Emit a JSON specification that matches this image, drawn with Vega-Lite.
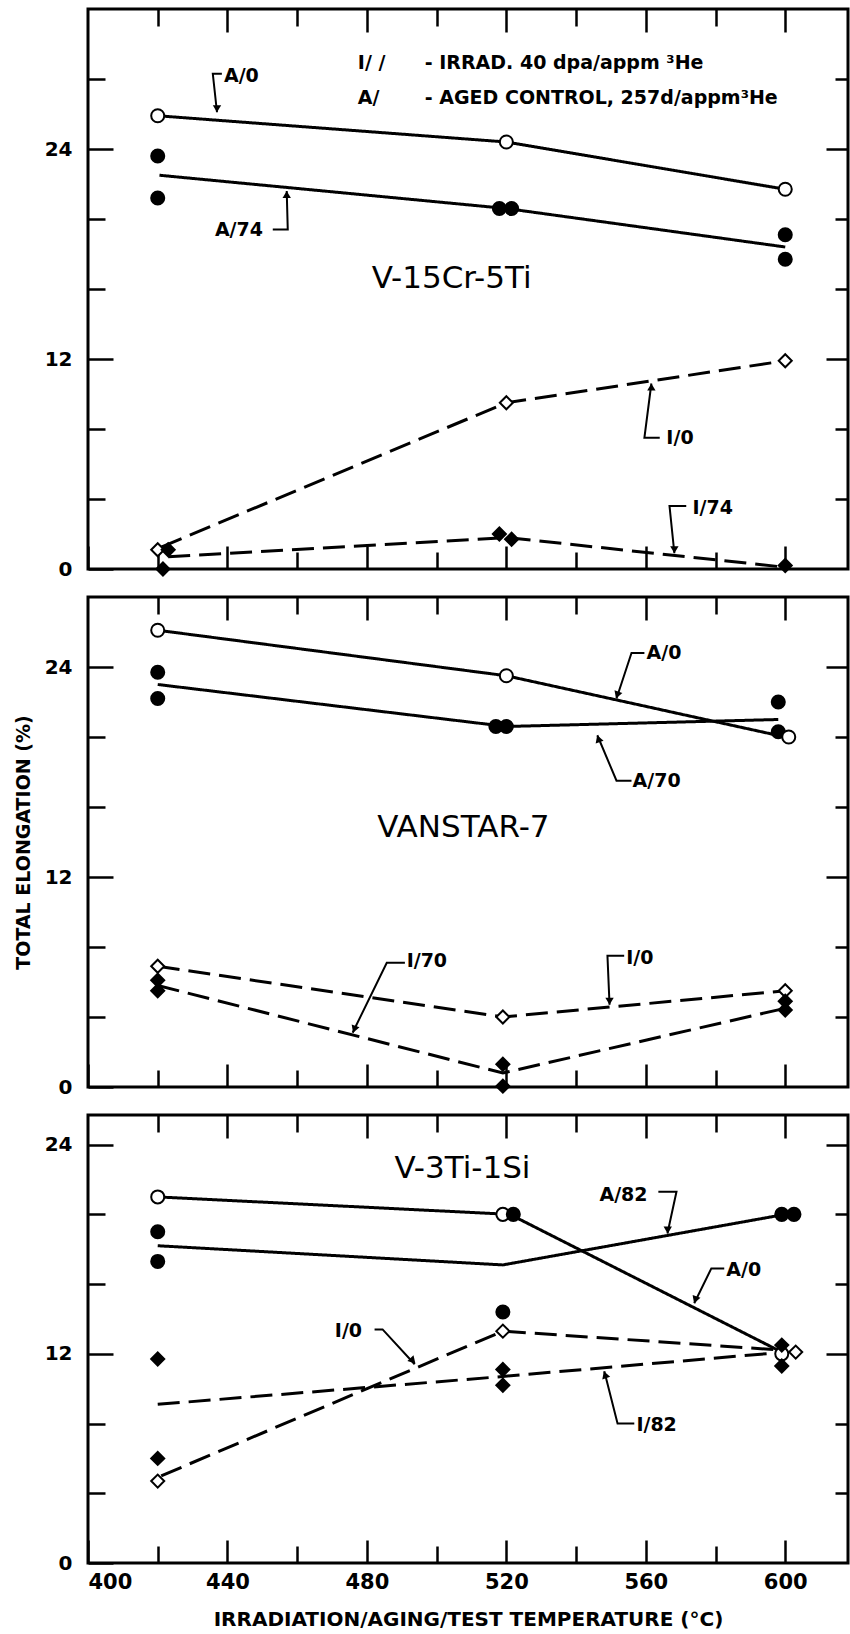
{
  "$schema": "https://vega.github.io/schema/vega-lite/v6.json",
  "padding": {"left": 12, "top": 6, "right": 0, "bottom": 0},
  "spacing": 28,
  "bounds": "flush",
  "config": {
    "view": {"stroke": "black", "strokeWidth": 3},
    "font": "DejaVu Sans",
    "axis": {"domain": false, "grid": false, "minExtent": 0, "tickColor": "black", "tickWidth": 2.5, "labelColor": "black", "titleColor": "black", "labelFont": "DejaVu Sans", "titleFont": "DejaVu Sans", "labelFontSize": 20, "labelFontWeight": "bold", "titleFontWeight": "bold"}
  },
  "datasets": {
    "pts": [
      {"panel": "P1", "x": 420, "y": 25.9, "treat": "A", "he": "none"},
      {"panel": "P1", "x": 520, "y": 24.4, "treat": "A", "he": "none"},
      {"panel": "P1", "x": 600, "y": 21.7, "treat": "A", "he": "none"},
      {"panel": "P1", "x": 420, "y": 23.6, "treat": "A", "he": "He"},
      {"panel": "P1", "x": 420, "y": 21.2, "treat": "A", "he": "He"},
      {"panel": "P1", "x": 518, "y": 20.6, "treat": "A", "he": "He"},
      {"panel": "P1", "x": 521.5, "y": 20.6, "treat": "A", "he": "He"},
      {"panel": "P1", "x": 600, "y": 19.1, "treat": "A", "he": "He"},
      {"panel": "P1", "x": 600, "y": 17.7, "treat": "A", "he": "He"},
      {"panel": "P1", "x": 420, "y": 1.1, "treat": "I", "he": "none"},
      {"panel": "P1", "x": 520, "y": 9.5, "treat": "I", "he": "none"},
      {"panel": "P1", "x": 600, "y": 11.9, "treat": "I", "he": "none"},
      {"panel": "P1", "x": 423, "y": 1.1, "treat": "I", "he": "He"},
      {"panel": "P1", "x": 421.5, "y": 0, "treat": "I", "he": "He"},
      {"panel": "P1", "x": 518, "y": 2.0, "treat": "I", "he": "He"},
      {"panel": "P1", "x": 521.5, "y": 1.7, "treat": "I", "he": "He"},
      {"panel": "P1", "x": 600, "y": 0.2, "treat": "I", "he": "He"},
      {"panel": "P2", "x": 420, "y": 23.7, "treat": "A", "he": "He"},
      {"panel": "P2", "x": 420, "y": 22.2, "treat": "A", "he": "He"},
      {"panel": "P2", "x": 517, "y": 20.6, "treat": "A", "he": "He"},
      {"panel": "P2", "x": 520, "y": 20.6, "treat": "A", "he": "He"},
      {"panel": "P2", "x": 598, "y": 22.0, "treat": "A", "he": "He"},
      {"panel": "P2", "x": 598, "y": 20.3, "treat": "A", "he": "He"},
      {"panel": "P2", "x": 420, "y": 26.1, "treat": "A", "he": "none"},
      {"panel": "P2", "x": 520, "y": 23.5, "treat": "A", "he": "none"},
      {"panel": "P2", "x": 601, "y": 20.0, "treat": "A", "he": "none"},
      {"panel": "P2", "x": 420, "y": 6.9, "treat": "I", "he": "none"},
      {"panel": "P2", "x": 519, "y": 4.0, "treat": "I", "he": "none"},
      {"panel": "P2", "x": 600, "y": 5.5, "treat": "I", "he": "none"},
      {"panel": "P2", "x": 420, "y": 6.1, "treat": "I", "he": "He"},
      {"panel": "P2", "x": 420, "y": 5.5, "treat": "I", "he": "He"},
      {"panel": "P2", "x": 519, "y": 1.3, "treat": "I", "he": "He"},
      {"panel": "P2", "x": 519, "y": 0.05, "treat": "I", "he": "He"},
      {"panel": "P2", "x": 600, "y": 4.9, "treat": "I", "he": "He"},
      {"panel": "P2", "x": 600, "y": 4.4, "treat": "I", "he": "He"},
      {"panel": "P3", "x": 420, "y": 21.0, "treat": "A", "he": "none"},
      {"panel": "P3", "x": 519, "y": 20.0, "treat": "A", "he": "none"},
      {"panel": "P3", "x": 599, "y": 12.0, "treat": "A", "he": "none"},
      {"panel": "P3", "x": 420, "y": 19.0, "treat": "A", "he": "He"},
      {"panel": "P3", "x": 420, "y": 17.3, "treat": "A", "he": "He"},
      {"panel": "P3", "x": 522, "y": 20.0, "treat": "A", "he": "He"},
      {"panel": "P3", "x": 519, "y": 14.4, "treat": "A", "he": "He"},
      {"panel": "P3", "x": 599, "y": 20.0, "treat": "A", "he": "He"},
      {"panel": "P3", "x": 602.5, "y": 20.0, "treat": "A", "he": "He"},
      {"panel": "P3", "x": 420, "y": 4.7, "treat": "I", "he": "none"},
      {"panel": "P3", "x": 519, "y": 13.3, "treat": "I", "he": "none"},
      {"panel": "P3", "x": 420, "y": 11.7, "treat": "I", "he": "He"},
      {"panel": "P3", "x": 420, "y": 6.0, "treat": "I", "he": "He"},
      {"panel": "P3", "x": 519, "y": 11.1, "treat": "I", "he": "He"},
      {"panel": "P3", "x": 519, "y": 10.2, "treat": "I", "he": "He"},
      {"panel": "P3", "x": 599, "y": 12.5, "treat": "I", "he": "He"},
      {"panel": "P3", "x": 599, "y": 11.3, "treat": "I", "he": "He"},
      {"panel": "P3", "x": 603, "y": 12.1, "treat": "I", "he": "none"}
    ],
    "lines": [
      {"panel": "P1", "series": "A/0", "treat": "A", "x": 420, "y": 25.9},
      {"panel": "P1", "series": "A/0", "treat": "A", "x": 520, "y": 24.4},
      {"panel": "P1", "series": "A/0", "treat": "A", "x": 600, "y": 21.7},
      {"panel": "P1", "series": "A/74", "treat": "A", "x": 420.5, "y": 22.5},
      {"panel": "P1", "series": "A/74", "treat": "A", "x": 520, "y": 20.6},
      {"panel": "P1", "series": "A/74", "treat": "A", "x": 600, "y": 18.4},
      {"panel": "P1", "series": "I/0", "treat": "I", "x": 421, "y": 1.25},
      {"panel": "P1", "series": "I/0", "treat": "I", "x": 520, "y": 9.5},
      {"panel": "P1", "series": "I/0", "treat": "I", "x": 600, "y": 11.9},
      {"panel": "P1", "series": "I/74", "treat": "I", "x": 423, "y": 0.7},
      {"panel": "P1", "series": "I/74", "treat": "I", "x": 520, "y": 1.8},
      {"panel": "P1", "series": "I/74", "treat": "I", "x": 600, "y": 0.1},
      {"panel": "P2", "series": "A/0", "treat": "A", "x": 420, "y": 26.1},
      {"panel": "P2", "series": "A/0", "treat": "A", "x": 520, "y": 23.5},
      {"panel": "P2", "series": "A/0", "treat": "A", "x": 600, "y": 20.0},
      {"panel": "P2", "series": "A/70", "treat": "A", "x": 420, "y": 23.0},
      {"panel": "P2", "series": "A/70", "treat": "A", "x": 520, "y": 20.6},
      {"panel": "P2", "series": "A/70", "treat": "A", "x": 598, "y": 21.0},
      {"panel": "P2", "series": "I/0", "treat": "I", "x": 420, "y": 6.9},
      {"panel": "P2", "series": "I/0", "treat": "I", "x": 519, "y": 4.0},
      {"panel": "P2", "series": "I/0", "treat": "I", "x": 600, "y": 5.5},
      {"panel": "P2", "series": "I/70", "treat": "I", "x": 420, "y": 5.8},
      {"panel": "P2", "series": "I/70", "treat": "I", "x": 519, "y": 0.8},
      {"panel": "P2", "series": "I/70", "treat": "I", "x": 600, "y": 4.5},
      {"panel": "P3", "series": "A/0", "treat": "A", "x": 420, "y": 21.0},
      {"panel": "P3", "series": "A/0", "treat": "A", "x": 521, "y": 20.0},
      {"panel": "P3", "series": "A/0", "treat": "A", "x": 598, "y": 12.2},
      {"panel": "P3", "series": "A/82", "treat": "A", "x": 420, "y": 18.2},
      {"panel": "P3", "series": "A/82", "treat": "A", "x": 519, "y": 17.1},
      {"panel": "P3", "series": "A/82", "treat": "A", "x": 600, "y": 20.0},
      {"panel": "P3", "series": "I/0", "treat": "I", "x": 421, "y": 5.0},
      {"panel": "P3", "series": "I/0", "treat": "I", "x": 519, "y": 13.3},
      {"panel": "P3", "series": "I/0", "treat": "I", "x": 600, "y": 12.2},
      {"panel": "P3", "series": "I/82", "treat": "I", "x": 420, "y": 9.1},
      {"panel": "P3", "series": "I/82", "treat": "I", "x": 519, "y": 10.7},
      {"panel": "P3", "series": "I/82", "treat": "I", "x": 600, "y": 12.1}
    ],
    "leaders": [
      {"panel": "P1", "id": "a", "ord": 1, "x": 438.4, "y": 28.3},
      {"panel": "P1", "id": "a", "ord": 2, "x": 435.8, "y": 28.3},
      {"panel": "P1", "id": "a", "ord": 3, "x": 437.0, "y": 26.1},
      {"panel": "P1", "id": "b", "ord": 1, "x": 453.0, "y": 19.4},
      {"panel": "P1", "id": "b", "ord": 2, "x": 457.3, "y": 19.4},
      {"panel": "P1", "id": "b", "ord": 3, "x": 457.0, "y": 21.6},
      {"panel": "P1", "id": "c", "ord": 1, "x": 564.0, "y": 7.5},
      {"panel": "P1", "id": "c", "ord": 2, "x": 559.6, "y": 7.5},
      {"panel": "P1", "id": "c", "ord": 3, "x": 561.6, "y": 10.6},
      {"panel": "P1", "id": "d", "ord": 1, "x": 571.6, "y": 3.6},
      {"panel": "P1", "id": "d", "ord": 2, "x": 566.8, "y": 3.6},
      {"panel": "P1", "id": "d", "ord": 3, "x": 568.2, "y": 0.9},
      {"panel": "P2", "id": "a", "ord": 1, "x": 559.6, "y": 24.8},
      {"panel": "P2", "id": "a", "ord": 2, "x": 555.9, "y": 24.8},
      {"panel": "P2", "id": "a", "ord": 3, "x": 551.6, "y": 22.2},
      {"panel": "P2", "id": "b", "ord": 1, "x": 555.9, "y": 17.5},
      {"panel": "P2", "id": "b", "ord": 2, "x": 551.6, "y": 17.5},
      {"panel": "P2", "id": "b", "ord": 3, "x": 546.1, "y": 20.1},
      {"panel": "P2", "id": "c", "ord": 1, "x": 490.9, "y": 7.1},
      {"panel": "P2", "id": "c", "ord": 2, "x": 485.7, "y": 7.1},
      {"panel": "P2", "id": "c", "ord": 3, "x": 475.9, "y": 3.1},
      {"panel": "P2", "id": "d", "ord": 1, "x": 553.8, "y": 7.5},
      {"panel": "P2", "id": "d", "ord": 2, "x": 549.0, "y": 7.5},
      {"panel": "P2", "id": "d", "ord": 3, "x": 549.6, "y": 4.7},
      {"panel": "P3", "id": "a", "ord": 1, "x": 563.6, "y": 21.3},
      {"panel": "P3", "id": "a", "ord": 2, "x": 568.8, "y": 21.3},
      {"panel": "P3", "id": "a", "ord": 3, "x": 566.2, "y": 18.9},
      {"panel": "P3", "id": "b", "ord": 1, "x": 582.5, "y": 16.9},
      {"panel": "P3", "id": "b", "ord": 2, "x": 578.8, "y": 16.9},
      {"panel": "P3", "id": "b", "ord": 3, "x": 573.9, "y": 14.9},
      {"panel": "P3", "id": "c", "ord": 1, "x": 482.2, "y": 13.4},
      {"panel": "P3", "id": "c", "ord": 2, "x": 484.5, "y": 13.4},
      {"panel": "P3", "id": "c", "ord": 3, "x": 493.7, "y": 11.4},
      {"panel": "P3", "id": "d", "ord": 1, "x": 556.7, "y": 8.0},
      {"panel": "P3", "id": "d", "ord": 2, "x": 551.9, "y": 8.0},
      {"panel": "P3", "id": "d", "ord": 3, "x": 548.1, "y": 11.0}
    ],
    "heads": [
      {"panel": "P1", "x": 437.0, "y": 26.3, "dir": "S"},
      {"panel": "P1", "x": 457.0, "y": 21.4, "dir": "N"},
      {"panel": "P1", "x": 561.6, "y": 10.4, "dir": "N"},
      {"panel": "P1", "x": 568.2, "y": 1.1, "dir": "S"},
      {"panel": "P2", "x": 551.8, "y": 22.4, "dir": "SSW"},
      {"panel": "P2", "x": 546.4, "y": 19.9, "dir": "NNW"},
      {"panel": "P2", "x": 476.4, "y": 3.3, "dir": "SSW"},
      {"panel": "P2", "x": 549.6, "y": 4.9, "dir": "S"},
      {"panel": "P3", "x": 566.3, "y": 19.1, "dir": "S"},
      {"panel": "P3", "x": 574.2, "y": 15.1, "dir": "SSW"},
      {"panel": "P3", "x": 493.2, "y": 11.6, "dir": "SE"},
      {"panel": "P3", "x": 548.3, "y": 10.8, "dir": "NNW"}
    ],
    "notes": [
      {"panel": "P1", "x": 439.0, "y": 28.2, "label": "A/0"},
      {"panel": "P1", "x": 436.4, "y": 19.4, "label": "A/74"},
      {"panel": "P1", "x": 565.9, "y": 7.5, "label": "I/0"},
      {"panel": "P1", "x": 573.4, "y": 3.5, "label": "I/74"},
      {"panel": "P1", "x": 477.4, "y": 28.9, "label": "I/  /"},
      {"panel": "P1", "x": 496.6, "y": 28.9, "label": "- IRRAD. 40 dpa/appm ³He"},
      {"panel": "P1", "x": 477.4, "y": 26.9, "label": "A/"},
      {"panel": "P1", "x": 496.6, "y": 26.9, "label": "- AGED CONTROL, 257d/appm³He"},
      {"panel": "P2", "x": 560.2, "y": 24.8, "label": "A/0"},
      {"panel": "P2", "x": 556.2, "y": 17.5, "label": "A/70"},
      {"panel": "P2", "x": 491.4, "y": 7.2, "label": "I/70"},
      {"panel": "P2", "x": 554.4, "y": 7.4, "label": "I/0"},
      {"panel": "P3", "x": 546.7, "y": 21.1, "label": "A/82"},
      {"panel": "P3", "x": 583.1, "y": 16.8, "label": "A/0"},
      {"panel": "P3", "x": 470.8, "y": 13.3, "label": "I/0"},
      {"panel": "P3", "x": 557.3, "y": 7.9, "label": "I/82"}
    ],
    "titles": [
      {"panel": "P1", "x": 504.3, "y": 16.6, "label": "V-15Cr-5Ti"},
      {"panel": "P2", "x": 507.7, "y": 14.8, "label": "VANSTAR-7"},
      {"panel": "P3", "x": 507.4, "y": 22.6, "label": "V-3Ti-1Si"}
    ]
  },
  "vconcat": [
    {
      "width": 760, "height": 560,
      "layer": [
        {
          "data": {"name": "lines"}, "transform": [{"filter": "datum.panel === 'P1'"}],
          "mark": {"type": "line", "color": "black", "strokeWidth": 3},
          "encoding": {
            "x": {"field": "x", "type": "quantitative", "scale": {"domain": [400, 618], "nice": false, "zero": false},
              "axis": {"orient": "bottom", "values": [400, 420, 440, 460, 480, 500, 520, 540, 560, 580, 600], "labels": false, "tickSize": {"expr": "datum.value % 40 === 0 ? -23 : -17"}, "title": null}},
            "y": {"field": "y", "type": "quantitative", "scale": {"domain": [0, 32], "nice": false},
              "axis": {"orient": "left", "values": [0, 4, 8, 12, 16, 20, 24, 28], "labelExpr": "datum.value % 12 === 0 ? datum.label : ''", "tickSize": {"expr": "datum.value % 12 === 0 ? -25 : -17"}, "labelPadding": 41, "title": null}},
            "detail": {"field": "series"},
            "strokeDash": {"field": "treat", "type": "nominal", "scale": {"domain": ["A", "I"], "range": [[1, 0], [22, 9]]}, "legend": null}
          }
        },
        {
          "data": {"name": "pts"}, "transform": [{"filter": "datum.panel === 'P1'"}],
          "mark": {"type": "point", "filled": true, "size": 170, "stroke": "black", "strokeWidth": 2, "opacity": 1},
          "encoding": {
            "x": {"field": "x", "type": "quantitative", "scale": {"domain": [400, 618], "nice": false, "zero": false},
              "axis": {"orient": "top", "values": [420, 440, 460, 480, 500, 520, 540, 560, 580, 600], "labels": false, "tickSize": {"expr": "datum.value % 40 === 0 ? -23 : -17"}, "title": null}},
            "y": {"field": "y", "type": "quantitative", "scale": {"domain": [0, 32], "nice": false},
              "axis": {"orient": "right", "values": [4, 8, 12, 16, 20, 24, 28], "labels": false, "tickSize": {"expr": "datum.value % 12 === 0 ? -22 : -13"}, "title": null}},
            "shape": {"field": "treat", "type": "nominal", "scale": {"domain": ["A", "I"], "range": ["circle", "diamond"]}, "legend": null},
            "fill": {"field": "he", "type": "nominal", "scale": {"domain": ["none", "He"], "range": ["white", "black"]}, "legend": null}
          }
        },
        {
          "data": {"name": "leaders"}, "transform": [{"filter": "datum.panel === 'P1'"}],
          "mark": {"type": "line", "color": "black", "strokeWidth": 2},
          "encoding": {
            "x": {"field": "x", "type": "quantitative", "axis": null},
            "y": {"field": "y", "type": "quantitative", "axis": null},
            "detail": {"field": "id"},
            "order": {"field": "ord", "type": "quantitative"}
          }
        },
        {
          "data": {"name": "heads"}, "transform": [{"filter": "datum.panel === 'P1'"}],
          "mark": {"type": "point", "shape": "triangle-up", "filled": true, "color": "black", "size": 70, "opacity": 1},
          "encoding": {
            "x": {"field": "x", "type": "quantitative", "axis": null},
            "y": {"field": "y", "type": "quantitative", "axis": null},
            "angle": {"field": "dir", "type": "nominal", "scale": {"type": "ordinal", "domain": ["N", "S", "SSW", "NNW", "SE"], "range": [0, 180, 200, 340, 137]}, "legend": null}
          }
        },
        {
          "data": {"name": "notes"}, "transform": [{"filter": "datum.panel === 'P1'"}],
          "mark": {"type": "text", "align": "left", "baseline": "middle", "fontSize": 19, "fontWeight": "bold", "color": "black", "font": "DejaVu Sans"},
          "encoding": {
            "x": {"field": "x", "type": "quantitative", "axis": null},
            "y": {"field": "y", "type": "quantitative", "axis": null},
            "text": {"field": "label"}
          }
        },
        {
          "data": {"name": "titles"}, "transform": [{"filter": "datum.panel === 'P1'"}],
          "mark": {"type": "text", "align": "center", "baseline": "middle", "fontSize": 31, "color": "black", "font": "DejaVu Sans"},
          "encoding": {
            "x": {"field": "x", "type": "quantitative", "axis": null},
            "y": {"field": "y", "type": "quantitative", "axis": null},
            "text": {"field": "label"}
          }
        }
      ],
      "resolve": {"axis": {"x": "independent", "y": "independent"}}
    },
    {
      "width": 760, "height": 490,
      "layer": [
        {
          "data": {"name": "lines"}, "transform": [{"filter": "datum.panel === 'P2'"}],
          "mark": {"type": "line", "color": "black", "strokeWidth": 3},
          "encoding": {
            "x": {"field": "x", "type": "quantitative", "scale": {"domain": [400, 618], "nice": false, "zero": false},
              "axis": {"orient": "bottom", "values": [400, 420, 440, 460, 480, 500, 520, 540, 560, 580, 600], "labels": false, "tickSize": {"expr": "datum.value % 40 === 0 ? -23 : -17"}, "title": null}},
            "y": {"field": "y", "type": "quantitative", "scale": {"domain": [0, 28], "nice": false},
              "axis": {"orient": "left", "values": [0, 4, 8, 12, 16, 20, 24], "labelExpr": "datum.value % 12 === 0 ? datum.label : ''", "tickSize": {"expr": "datum.value % 12 === 0 ? -25 : -17"}, "labelPadding": 41, "title": "TOTAL ELONGATION (%)", "titleFontSize": 19, "titlePadding": 11}},
            "detail": {"field": "series"},
            "strokeDash": {"field": "treat", "type": "nominal", "scale": {"domain": ["A", "I"], "range": [[1, 0], [22, 9]]}, "legend": null}
          }
        },
        {
          "data": {"name": "pts"}, "transform": [{"filter": "datum.panel === 'P2'"}],
          "mark": {"type": "point", "filled": true, "size": 170, "stroke": "black", "strokeWidth": 2, "opacity": 1},
          "encoding": {
            "x": {"field": "x", "type": "quantitative", "scale": {"domain": [400, 618], "nice": false, "zero": false},
              "axis": {"orient": "top", "values": [420, 440, 460, 480, 500, 520, 540, 560, 580, 600], "labels": false, "tickSize": {"expr": "datum.value % 40 === 0 ? -23 : -17"}, "title": null}},
            "y": {"field": "y", "type": "quantitative", "scale": {"domain": [0, 28], "nice": false},
              "axis": {"orient": "right", "values": [4, 8, 12, 16, 20, 24], "labels": false, "tickSize": {"expr": "datum.value % 12 === 0 ? -22 : -13"}, "title": null}},
            "shape": {"field": "treat", "type": "nominal", "scale": {"domain": ["A", "I"], "range": ["circle", "diamond"]}, "legend": null},
            "fill": {"field": "he", "type": "nominal", "scale": {"domain": ["none", "He"], "range": ["white", "black"]}, "legend": null}
          }
        },
        {
          "data": {"name": "leaders"}, "transform": [{"filter": "datum.panel === 'P2'"}],
          "mark": {"type": "line", "color": "black", "strokeWidth": 2},
          "encoding": {
            "x": {"field": "x", "type": "quantitative", "axis": null},
            "y": {"field": "y", "type": "quantitative", "axis": null},
            "detail": {"field": "id"},
            "order": {"field": "ord", "type": "quantitative"}
          }
        },
        {
          "data": {"name": "heads"}, "transform": [{"filter": "datum.panel === 'P2'"}],
          "mark": {"type": "point", "shape": "triangle-up", "filled": true, "color": "black", "size": 70, "opacity": 1},
          "encoding": {
            "x": {"field": "x", "type": "quantitative", "axis": null},
            "y": {"field": "y", "type": "quantitative", "axis": null},
            "angle": {"field": "dir", "type": "nominal", "scale": {"type": "ordinal", "domain": ["N", "S", "SSW", "NNW", "SE"], "range": [0, 180, 200, 340, 137]}, "legend": null}
          }
        },
        {
          "data": {"name": "notes"}, "transform": [{"filter": "datum.panel === 'P2'"}],
          "mark": {"type": "text", "align": "left", "baseline": "middle", "fontSize": 19, "fontWeight": "bold", "color": "black", "font": "DejaVu Sans"},
          "encoding": {
            "x": {"field": "x", "type": "quantitative", "axis": null},
            "y": {"field": "y", "type": "quantitative", "axis": null},
            "text": {"field": "label"}
          }
        },
        {
          "data": {"name": "titles"}, "transform": [{"filter": "datum.panel === 'P2'"}],
          "mark": {"type": "text", "align": "center", "baseline": "middle", "fontSize": 31, "color": "black", "font": "DejaVu Sans"},
          "encoding": {
            "x": {"field": "x", "type": "quantitative", "axis": null},
            "y": {"field": "y", "type": "quantitative", "axis": null},
            "text": {"field": "label"}
          }
        }
      ],
      "resolve": {"axis": {"x": "independent", "y": "independent"}}
    },
    {
      "width": 760, "height": 448,
      "layer": [
        {
          "data": {"name": "lines"}, "transform": [{"filter": "datum.panel === 'P3'"}],
          "mark": {"type": "line", "color": "black", "strokeWidth": 3},
          "encoding": {
            "x": {"field": "x", "type": "quantitative", "scale": {"domain": [400, 618], "nice": false, "zero": false},
              "axis": {"orient": "bottom", "values": [400, 420, 440, 460, 480, 500, 520, 540, 560, 580, 600], "labelExpr": "datum.value % 40 === 0 ? datum.label : ''", "labelFontSize": 21, "labelPadding": 31, "tickSize": {"expr": "datum.value % 40 === 0 ? -23 : -17"}, "title": "IRRADIATION/AGING/TEST TEMPERATURE (°C)", "titleFontSize": 20, "titlePadding": 17}},
            "y": {"field": "y", "type": "quantitative", "scale": {"domain": [0, 25.7], "nice": false},
              "axis": {"orient": "left", "values": [0, 4, 8, 12, 16, 20, 24], "labelExpr": "datum.value % 12 === 0 ? datum.label : ''", "tickSize": {"expr": "datum.value % 12 === 0 ? -25 : -17"}, "labelPadding": 41, "title": null}},
            "detail": {"field": "series"},
            "strokeDash": {"field": "treat", "type": "nominal", "scale": {"domain": ["A", "I"], "range": [[1, 0], [22, 9]]}, "legend": null}
          }
        },
        {
          "data": {"name": "pts"}, "transform": [{"filter": "datum.panel === 'P3'"}],
          "mark": {"type": "point", "filled": true, "size": 170, "stroke": "black", "strokeWidth": 2, "opacity": 1},
          "encoding": {
            "x": {"field": "x", "type": "quantitative", "scale": {"domain": [400, 618], "nice": false, "zero": false},
              "axis": {"orient": "top", "values": [420, 440, 460, 480, 500, 520, 540, 560, 580, 600], "labels": false, "tickSize": {"expr": "datum.value % 40 === 0 ? -23 : -17"}, "title": null}},
            "y": {"field": "y", "type": "quantitative", "scale": {"domain": [0, 25.7], "nice": false},
              "axis": {"orient": "right", "values": [4, 8, 12, 16, 20, 24], "labels": false, "tickSize": {"expr": "datum.value % 12 === 0 ? -22 : -13"}, "title": null}},
            "shape": {"field": "treat", "type": "nominal", "scale": {"domain": ["A", "I"], "range": ["circle", "diamond"]}, "legend": null},
            "fill": {"field": "he", "type": "nominal", "scale": {"domain": ["none", "He"], "range": ["white", "black"]}, "legend": null}
          }
        },
        {
          "data": {"name": "leaders"}, "transform": [{"filter": "datum.panel === 'P3'"}],
          "mark": {"type": "line", "color": "black", "strokeWidth": 2},
          "encoding": {
            "x": {"field": "x", "type": "quantitative", "axis": null},
            "y": {"field": "y", "type": "quantitative", "axis": null},
            "detail": {"field": "id"},
            "order": {"field": "ord", "type": "quantitative"}
          }
        },
        {
          "data": {"name": "heads"}, "transform": [{"filter": "datum.panel === 'P3'"}],
          "mark": {"type": "point", "shape": "triangle-up", "filled": true, "color": "black", "size": 70, "opacity": 1},
          "encoding": {
            "x": {"field": "x", "type": "quantitative", "axis": null},
            "y": {"field": "y", "type": "quantitative", "axis": null},
            "angle": {"field": "dir", "type": "nominal", "scale": {"type": "ordinal", "domain": ["N", "S", "SSW", "NNW", "SE"], "range": [0, 180, 200, 340, 137]}, "legend": null}
          }
        },
        {
          "data": {"name": "notes"}, "transform": [{"filter": "datum.panel === 'P3'"}],
          "mark": {"type": "text", "align": "left", "baseline": "middle", "fontSize": 19, "fontWeight": "bold", "color": "black", "font": "DejaVu Sans"},
          "encoding": {
            "x": {"field": "x", "type": "quantitative", "axis": null},
            "y": {"field": "y", "type": "quantitative", "axis": null},
            "text": {"field": "label"}
          }
        },
        {
          "data": {"name": "titles"}, "transform": [{"filter": "datum.panel === 'P3'"}],
          "mark": {"type": "text", "align": "center", "baseline": "middle", "fontSize": 31, "color": "black", "font": "DejaVu Sans"},
          "encoding": {
            "x": {"field": "x", "type": "quantitative", "axis": null},
            "y": {"field": "y", "type": "quantitative", "axis": null},
            "text": {"field": "label"}
          }
        }
      ],
      "resolve": {"axis": {"x": "independent", "y": "independent"}}
    }
  ]
}
